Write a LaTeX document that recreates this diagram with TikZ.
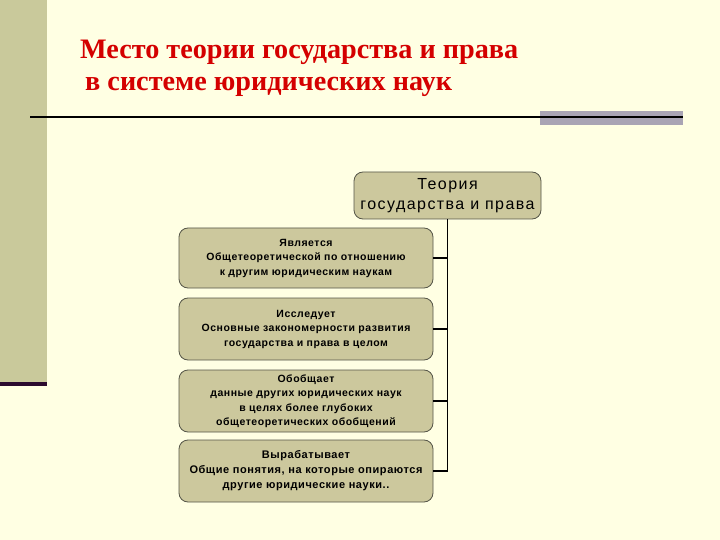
\documentclass[tikz,border=0pt]{standalone}
\usepackage{fontspec}
\setmainfont{Liberation Serif}
\setsansfont{Liberation Sans}
\definecolor{bg}{HTML}{FFFFE3}
\definecolor{sidebar}{HTML}{C9C99B}
\definecolor{sideline}{HTML}{2B0A2E}
\definecolor{graybar}{HTML}{A9A4B4}
\definecolor{boxfill}{HTML}{CCC89D}
\definecolor{boxline}{HTML}{555548}
\definecolor{titlered}{HTML}{D40000}
\tikzset{
  box/.style={draw=boxline, line width=0.8pt, fill=boxfill, rounded corners=9pt,
    align=center, inner sep=2pt, text=black},
  smallbox/.style={box, minimum width=254pt, font=\sffamily\bfseries\fontsize{10.5}{14.5}\selectfont\addfontfeature{LetterSpace=5}},
  conn/.style={draw=black, line width=1.6pt},
  titletext/.style={text=titlered, font=\rmfamily\bfseries\fontsize{28.2}{34}\selectfont, anchor=west, inner sep=0pt}
}
\begin{document}
\begin{tikzpicture}[x=1pt,y=-1pt]
\useasboundingbox (0,0) rectangle (720,540);
\fill[bg] (0,0) rectangle (720,540);
% left side bar
\fill[sidebar] (0,0) rectangle (47,382);
\fill[sideline] (0,382) rectangle (47,386);
% title
\node[titletext] (t1) at (80,52) {Место теории государства и права};
\node[titletext] (t2) at (85,87) {в системе юридических наук};
% rule and gray bar
\fill[graybar] (540,111) rectangle (683,125);
\draw[line width=2pt, black] (30,117) -- (683,117);
% nodes
\node[box, minimum width=187pt, minimum height=47pt, font=\sffamily\fontsize{16}{20}\selectfont\addfontfeature{LetterSpace=9}] (top) at (447.5,195.5) {Теория\\государства и права};
\node[smallbox, minimum height=60pt] (b1) at (306,258) {Является\\Общетеоретической по отношению\\к другим юридическим наукам};
\node[smallbox, minimum height=62pt] (b2) at (306,329) {Исследует\\Основные закономерности развития\\государства и права в целом};
\node[smallbox, minimum height=62pt] (b3) at (306,401) {Обобщает\\данные других юридических наук\\в целях более глубоких\\общетеоретических обобщений};
\node[smallbox, minimum height=62pt, font=\sffamily\bfseries\fontsize{11}{15}\selectfont\addfontfeature{LetterSpace=5}] (b4) at (306,471) {Вырабатывает\\Общие понятия, на которые опираются\\другие юридические науки..};
% connectors
\draw[conn] (top.south) -- (b4.east -| top.south);
\draw[conn] (b1.east) -- (b1.east -| top.south);
\draw[conn] (b2.east) -- (b2.east -| top.south);
\draw[conn] (b3.east) -- (b3.east -| top.south);
\draw[conn] (b4.east) -- (b4.east -| top.south);
\end{tikzpicture}
\end{document}
